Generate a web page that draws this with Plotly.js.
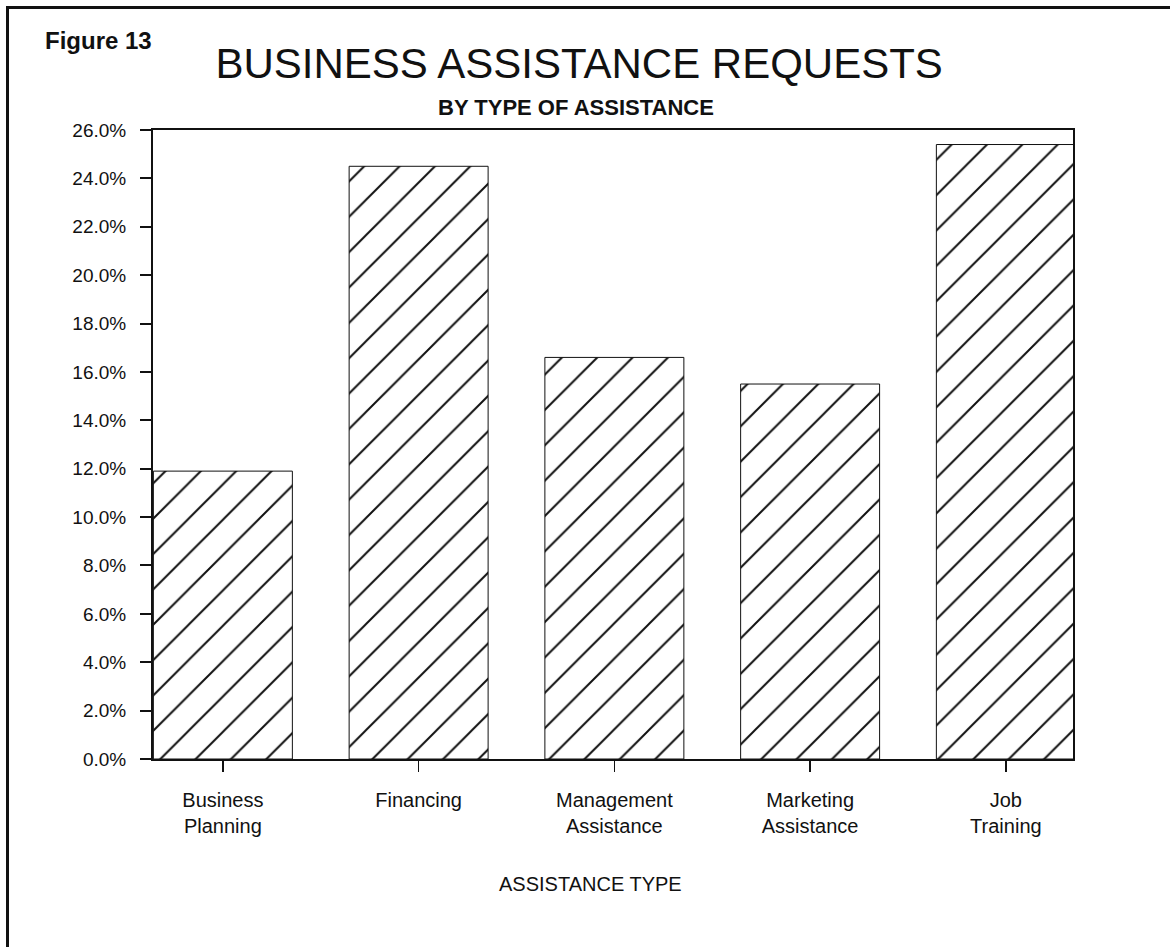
<!DOCTYPE html>
<html>
<head>
<meta charset="utf-8">
<script src="https://cdn.plot.ly/plotly-3.0.1.min.js"></script>
<style>
  html, body { margin: 0; padding: 0; background: #fff; }
  #wrap { position: relative; width: 1170px; height: 947px; overflow: hidden; }
  #chart { position: absolute; left: 0; top: 0; width: 1170px; height: 947px; }
  #frame { position: absolute; left: 6px; top: 6px; width: 1200px; height: 1000px;
           border-left: 3px solid #111; border-top: 3px solid #111; pointer-events: none; }
</style>
</head>
<body>
<div id="wrap">
  <div id="chart"></div>
  <div id="frame"></div>
</div>
<script>
// Data
const categories = ["Business Planning", "Financing", "Management Assistance", "Marketing Assistance", "Job Training"];
const tickLabels = ["Business<br>Planning", "Financing", "Management<br>Assistance", "Marketing<br>Assistance", "Job<br>Training"];
const sharePct = [11.9, 24.5, 16.6, 15.5, 25.4];
const yTickVals = [0, 2, 4, 6, 8, 10, 12, 14, 16, 18, 20, 22, 24, 26];

const FONT = "Liberation Sans, Arial, Helvetica, sans-serif";

const trace = {
  type: "bar",
  x: categories,
  y: sharePct,
  width: 0.71,
  marker: {
    color: "white",
    line: { color: "#111", width: 1 },
    pattern: { shape: "/", fgcolor: "#111", bgcolor: "white", size: 25, solidity: 0.08, fillmode: "replace" }
  },
  hoverinfo: "x+y"
};

const layout = {
  width: 1170,
  height: 947,
  margin: { l: 153, r: 97, t: 130, b: 188, pad: 0 },
  paper_bgcolor: "white",
  plot_bgcolor: "white",
  showlegend: false,
  font: { family: FONT, color: "#111" },
  title: {
    text: "BUSINESS ASSISTANCE REQUESTS",
    font: { family: FONT, size: 42, color: "#111" },
    xref: "container", yref: "container",
    x: 0.495, xanchor: "center",
    y: 0.933, yanchor: "middle"
  },
  xaxis: {
    type: "category",
    range: [-0.357, 4.343],
    tickmode: "array",
    tickvals: categories,
    ticktext: tickLabels,
    ticks: "outside",
    ticklen: 11,
    tickwidth: 1.5,
    tickcolor: "#111",
    showline: true,
    linecolor: "#111",
    linewidth: 2,
    mirror: true,
    showgrid: false,
    zeroline: false,
    tickfont: { family: FONT, size: 20, color: "#111" },
    ticklabelstandoff: 11,
    fixedrange: true
  },
  yaxis: {
    range: [0, 26],
    tickmode: "array",
    tickvals: yTickVals,
    ticktext: yTickVals.map(v => v.toFixed(1) + "%"),
    ticks: "outside",
    ticklen: 11,
    tickwidth: 2,
    tickcolor: "#111",
    showline: true,
    linecolor: "#111",
    linewidth: 2,
    mirror: true,
    showgrid: false,
    zeroline: false,
    tickfont: { family: FONT, size: 19, color: "#111" },
    ticklabelstandoff: 10,
    fixedrange: true
  },
  annotations: [
    {
      text: "<b>Figure 13</b>",
      xref: "paper", yref: "paper",
      x: -0.1196, y: 1.143, xanchor: "left", yanchor: "middle",
      showarrow: false,
      font: { family: FONT, size: 24, color: "#111" }
    },
    {
      text: "<b>BY TYPE OF ASSISTANCE</b>",
      xref: "paper", yref: "paper",
      x: 0.4598, y: 1.035, xanchor: "center", yanchor: "middle",
      showarrow: false,
      font: { family: FONT, size: 22, color: "#111" }
    },
    {
      text: "ASSISTANCE TYPE",
      xref: "paper", yref: "paper",
      x: 0.476, y: -0.1987, xanchor: "center", yanchor: "middle",
      showarrow: false,
      font: { family: FONT, size: 20, color: "#111" }
    }
  ]
};

Plotly.newPlot("chart", [trace], layout, { displayModeBar: false, staticPlot: true });
</script>
</body>
</html>
